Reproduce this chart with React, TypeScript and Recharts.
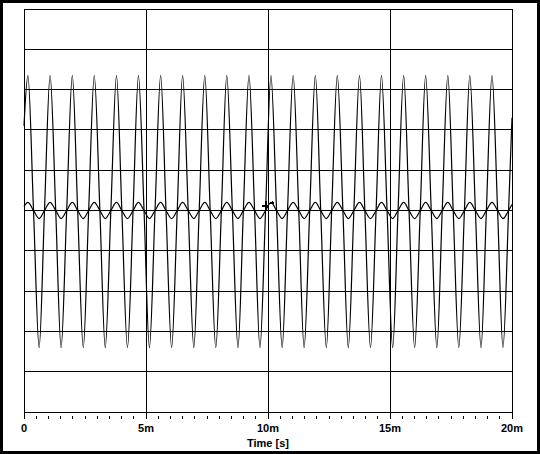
import { LineChart, Line, XAxis, YAxis, CartesianGrid, ReferenceLine, ReferenceDot } from "recharts";

// time in ms: peak / zero / trough / zero per cycle
const times = [
  0, 0.16, 0.39, 0.62, 0.84, 1.07, 1.3, 1.52, 1.75, 1.98, 2.2, 2.43, 2.65,
  2.88, 3.11, 3.33, 3.56, 3.79, 4.01, 4.24, 4.47, 4.69, 4.92, 5.14, 5.37,
  5.6, 5.82, 6.05, 6.28, 6.5, 6.73, 6.96, 7.18, 7.41, 7.63, 7.86, 8.09,
  8.31, 8.54, 8.77, 8.99, 9.22, 9.45, 9.67, 9.9, 10.12, 10.35, 10.58, 10.8,
  11.03, 11.26, 11.48, 11.71, 11.94, 12.16, 12.39, 12.61, 12.84, 13.07, 13.29, 13.52,
  13.75, 13.97, 14.2, 14.43, 14.65, 14.88, 15.11, 15.33, 15.56, 15.78, 16.01, 16.24,
  16.46, 16.69, 16.92, 17.14, 17.37, 17.59, 17.82, 18.05, 18.27, 18.5, 18.73, 18.95,
  19.18, 19.41, 19.63, 19.86, 20,
];

const bigWave = [
  2.1, 3.35, 0, -3.4, 0, 3.35, 0, -3.4, 0, 3.35, 0, -3.4, 0,
  3.35, 0, -3.4, 0, 3.35, 0, -3.4, 0, 3.35, 0, -3.4, 0,
  3.35, 0, -3.4, 0, 3.35, 0, -3.4, 0, 3.35, 0, -3.4, 0,
  3.35, 0, -3.4, 0, 3.35, 0, -3.4, 0, 3.35, 0, -3.4, 0,
  3.35, 0, -3.4, 0, 3.35, 0, -3.4, 0, 3.35, 0, -3.4, 0,
  3.35, 0, -3.4, 0, 3.35, 0, -3.4, 0, 3.35, 0, -3.4, 0,
  3.35, 0, -3.4, 0, 3.35, 0, -3.4, 0, 3.35, 0, -3.4, 0,
  3.35, 0, -3.4, 0, 2.3,
];

const smallWave = [
  0.1, 0.2, 0, -0.2, 0, 0.2, 0, -0.2, 0, 0.2, 0, -0.2, 0,
  0.2, 0, -0.2, 0, 0.2, 0, -0.2, 0, 0.2, 0, -0.2, 0,
  0.2, 0, -0.2, 0, 0.2, 0, -0.2, 0, 0.2, 0, -0.2, 0,
  0.2, 0, -0.2, 0, 0.2, 0, -0.2, 0, 0.2, 0, -0.2, 0,
  0.2, 0, -0.2, 0, 0.2, 0, -0.2, 0, 0.2, 0, -0.2, 0,
  0.2, 0, -0.2, 0, 0.2, 0, -0.2, 0, 0.2, 0, -0.2, 0,
  0.2, 0, -0.2, 0, 0.2, 0, -0.2, 0, 0.2, 0, -0.2, 0,
  0.2, 0, -0.2, 0, 0.15,
];

const majorTicks = [0, 5, 10, 15, 20];
const xTicks = [
  0, 0.5, 1, 1.5, 2, 2.5, 3, 3.5, 4, 4.5, 5, 5.5, 6, 6.5, 7, 7.5, 8, 8.5, 9, 9.5,
  10, 10.5, 11, 11.5, 12, 12.5, 13, 13.5, 14, 14.5, 15, 15.5, 16, 16.5, 17, 17.5,
  18, 18.5, 19, 19.5, 20,
];
const yTicks = [-5, -4, -3, -2, -1, 0, 1, 2, 3, 4, 5];

const rows = times.map((t, i) => ({
  t,
  big: bigWave[i],
  small: smallWave[i],
}));

const font = { fontFamily: "'Liberation Sans', Arial, sans-serif", fontWeight: 700, fontSize: 11 };

function TimeTick({ x, y, payload }: any) {
  const v = payload.value;
  const major = majorTicks.includes(v);
  return (
    <g>
      <line x1={x} x2={x} y1={major ? y : y + 4} y2={y + 7} stroke="#000" />
      {major && (
        <text x={x} y={y + 20} textAnchor="middle" fill="#000" style={font}>
          {v === 0 ? "0" : `${v}m`}
        </text>
      )}
    </g>
  );
}

// little cursor mark sitting on the centre line
const Cursor = ({ cx, cy }: any) => (
  <g stroke="#000" fill="none">
    <line x1={cx - 6} x2={cx + 1} y1={cy} y2={cy} strokeWidth={2} />
    <line x1={cx - 2} x2={cx - 2} y1={cy - 5} y2={cy + 5} strokeWidth={2} />
    <line x1={cx + 1} x2={cx + 6} y1={cy - 3} y2={cy - 3} />
    <line x1={cx + 4} x2={cx + 6} y1={cy - 5} y2={cy - 3} />
  </g>
);

export default function App() {
  return (
    <div
      style={{
        position: "absolute",
        left: 0,
        top: 0,
        width: 540,
        height: 454,
        boxSizing: "border-box",
        border: "3px solid #000",
        background: "#fff",
      }}
    >
      <style>{`.recharts-wrapper line { shape-rendering: crispEdges; }`}</style>
      <LineChart width={534} height={448} data={rows} margin={{ top: 6, right: 25, left: 21, bottom: 0 }}>
        <CartesianGrid vertical={false} stroke="#000" strokeOpacity={1} />
        <XAxis
          dataKey="t"
          type="number"
          domain={[0, 20]}
          ticks={xTicks}
          interval={0}
          height={39}
          tickSize={0}
          tickMargin={0}
          tickLine={false}
          axisLine={{ stroke: "#000" }}
          tick={<TimeTick />}
          label={{ value: "Time [s]", position: "insideBottom", offset: 4, fill: "#000", style: font }}
        />
        <YAxis hide type="number" domain={[-5, 5]} ticks={yTicks} />
        {majorTicks.map((v) => (
          <ReferenceLine key={v} x={v} stroke="#000" strokeOpacity={1} />
        ))}
        <ReferenceLine y={5} stroke="#000" />
        <ReferenceLine y={-5} stroke="#000" />
        <Line dataKey="small" type="monotone" dot={false} stroke="#000" strokeWidth={1.2} isAnimationActive={false} />
        <Line dataKey="big" type="monotone" dot={false} stroke="#000" strokeWidth={1.2} isAnimationActive={false} />
        <ReferenceDot x={10} y={0.1} r={0} shape={<Cursor />} />
      </LineChart>
    </div>
  );
}
